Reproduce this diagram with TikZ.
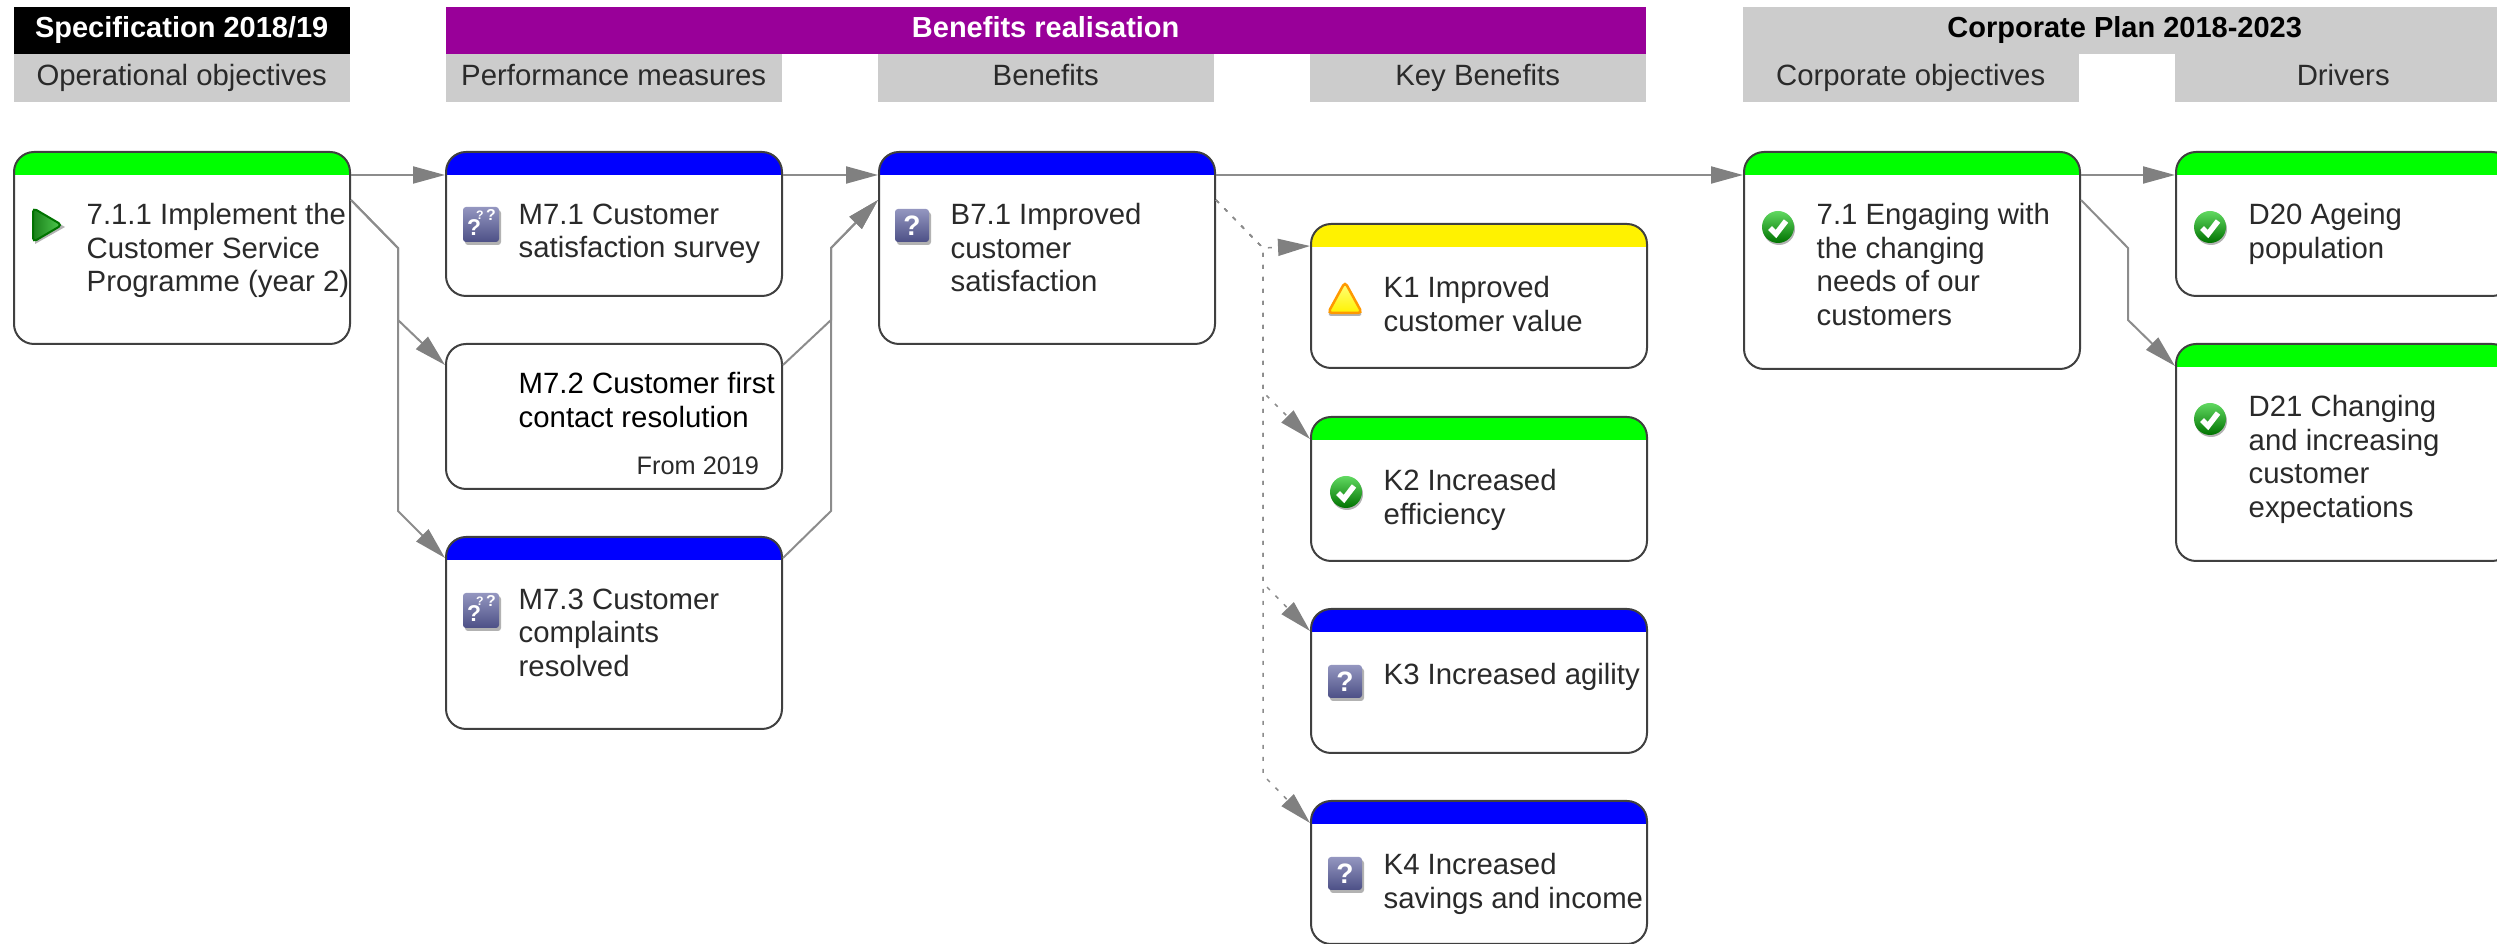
\documentclass[tikz,border=0pt]{standalone}
\usepackage{fontspec}
\setmainfont{Liberation Sans}
\usetikzlibrary{arrows.meta}

\definecolor{barpurple}{HTML}{990099}
\definecolor{bargrey}{HTML}{CCCCCC}
\definecolor{linegrey}{HTML}{8C8C8C}
\definecolor{tipgrey}{HTML}{808080}
\definecolor{textgrey}{HTML}{2A2A2A}
\definecolor{queryblue}{HTML}{5A5E9E}

\tikzset{
    titlebar/.style={anchor=north west, inner sep=0pt, minimum height=4.7mm, text height=2.1mm, text depth=.6mm,
        font=\fontsize{8.25}{9.5}\selectfont\bfseries},
    subbar/.style={anchor=north west, inner sep=0pt, minimum height=4.8mm, text height=2.1mm, text depth=.6mm,
        fill=bargrey, text=textgrey, font=\fontsize{8.35}{9.5}\selectfont},
    plaincard/.style={anchor=north west, inner sep=0pt, minimum width=33.6mm, draw=black!75, line width=.2mm,
        fill=white, rounded corners=2mm},
    card/.style={plaincard, path picture={
        \fill[#1, sharp corners] (path picture bounding box.north west) rectangle ([yshift=-2.3mm]path picture bounding box.north east);}},
    cardtext/.style={anchor=north west, yshift=2mm, inner sep=0pt, align=left, text=textgrey,
        execute at begin node=\rule{0pt}{2.4mm}, font=\fontsize{8.35}{9.53}\selectfont},
    link/.style={draw=linegrey, line width=.2mm, -{Triangle[length=3.2mm,width=1.7mm,color=tipgrey,fill=tipgrey]}},
    dotlink/.style={link, line width=.15mm, dash pattern=on .4mm off .8mm},
    tickicon/.pic={
        \fill[black!30] (1,2) circle (1.6mm);
        \shade[top color=green!55!white!85!black, bottom color=green!45!black] (0,0) circle (1.6mm);
        \draw[white, line width=.55mm] (-8,1) -- (-2,7) -- (8,-6);
    },
    playicon/.pic={
        \fill[black!30] (-12,-15) -- (18,2) -- (-12,19) -- cycle;
        \shade[left color=green!45!black!90, right color=green!60!white!80!black, draw=green!45!black, line width=.2mm,
            rounded corners=.4mm] (-14,-17) -- (15,0) -- (-14,17) -- cycle;
    },
    warnicon/.pic={
        \fill[black!30, rounded corners=.4mm] (0,-13) -- (18,18) -- (-18,18) -- cycle;
        \shade[top color=yellow!50!white, bottom color=yellow!90!orange, draw=orange!80!yellow, line width=.25mm,
            rounded corners=.4mm] (0,-16) -- (17,15) -- (-17,15) -- cycle;
    },
    queryicon/.pic={
        \fill[black!30, rounded corners=.3mm] (-15,-14) rectangle (19,19);
        \shade[top color=queryblue!65!white, bottom color=queryblue!85!black, rounded corners=.3mm] (-17,-17) rectangle (17,16);
        \node[text=white, inner sep=0pt, font=\fontsize{8}{8}\selectfont\bfseries] (mark) at (0,0) {?};
    },
    multiicon/.pic={
        \fill[black!30, rounded corners=.3mm] (-16,-15) rectangle (20,20);
        \shade[top color=queryblue!65!white, bottom color=queryblue!85!black, rounded corners=.3mm] (-18,-18) rectangle (18,17);
        \node[text=white, inner sep=0pt, font=\fontsize{6.5}{6.5}\selectfont\bfseries] (marka) at (-7,3) {?};
        \node[text=white, inner sep=0pt, font=\fontsize{3.5}{3.5}\selectfont\bfseries] (markb) at (-1,-10) {?};
        \node[text=white, inner sep=0pt, font=\fontsize{4.5}{4.5}\selectfont\bfseries] (markc) at (10,-10) {?};
    }
}

\begin{document}
\begin{tikzpicture}[x=.1mm,y=-.1mm]
    \useasboundingbox (0,0) rectangle (2497,944);

    % Column titles
    \node[titlebar, fill=black, text=white, minimum width=33.6mm] (SP) at (13,6) {Specification 2018/19};
    \node[titlebar, fill=barpurple, text=white, minimum width=120mm] (BR) at (445,6) {Benefits realisation};
    \node[titlebar, fill=bargrey, text=black, minimum width=76.4mm] (CP) at (1742,6) {Corporate Plan 2018-2023};

    \node[subbar, minimum width=33.6mm] (SP1) at (13,53) {Operational objectives};
    \node[subbar, minimum width=33.6mm] (BR1) at (445,53) {Performance measures};
    \node[subbar, minimum width=33.6mm] (BR2) at (877,53) {Benefits};
    \node[subbar, minimum width=33.6mm] (BR3) at (1309,53) {Key Benefits};
    \node[subbar, minimum width=33.6mm] (CP1) at (1742,53) {Corporate objectives};
    \node[subbar, minimum width=33.7mm] (CP2) at (2174,53) {Drivers};

    % Cards
    \node[card=green, minimum height=19.2mm] (O1) at (13,151) {};
    \node[card=blue, minimum height=14.4mm] (M1) at (445,151) {};
    \node[plaincard, minimum height=14.5mm] (M2) at (445,343) {};
    \node[card=blue, minimum height=19.2mm] (M3) at (445,536) {};
    \node[card=blue, minimum height=19.2mm] (B1) at (878,151) {};
    \node[card=yellow, minimum height=14.4mm] (K1) at (1310,223) {};
    \node[card=green, minimum height=14.4mm] (K2) at (1310,416) {};
    \node[card=blue, minimum height=14.4mm] (K3) at (1310,608) {};
    \node[card=blue, minimum height=14.3mm] (K4) at (1310,800) {};
    \node[card=green, minimum height=21.7mm] (C1) at (1743,151) {};
    \node[card=green, minimum height=14.4mm] (D1) at (2175,151) {};
    \node[card=green, minimum height=21.7mm] (D2) at (2175,343) {};

    % Card texts
    \node[cardtext] (O1t) at (86,223) {7.1.1 Implement the\\Customer Service\\Programme (year 2)};
    \node[cardtext] (M1t) at (518,223) {M7.1 Customer\\satisfaction survey};
    \node[cardtext, text=black] (M2t) at (518,392) {M7.2 Customer first\\contact resolution};
    \node[cardtext, font=\fontsize{7.2}{8}\selectfont] (M2f) at (636,470) {From 2019};
    \node[cardtext] (M3t) at (518,608) {M7.3 Customer\\complaints\\resolved};
    \node[cardtext] (B1t) at (950,223) {B7.1 Improved\\customer\\satisfaction};
    \node[cardtext] (K1t) at (1383,296) {K1 Improved\\customer value};
    \node[cardtext] (K2t) at (1383,489) {K2 Increased\\efficiency};
    \node[cardtext] (K3t) at (1383,680) {K3 Increased agility};
    \node[cardtext] (K4t) at (1383,873) {K4 Increased\\savings and income};
    \node[cardtext] (C1t) at (1816,223) {7.1 Engaging with\\the changing\\needs of our\\customers};
    \node[cardtext] (D1t) at (2248,223) {D20 Ageing\\population};
    \node[cardtext] (D2t) at (2248,415) {D21 Changing\\and increasing\\customer\\expectations};

    % Status icons
    \pic (O1i) at (47,225) {playicon};
    \pic (M1i) at (481,225) {multiicon};
    \pic (M3i) at (481,611) {multiicon};
    \pic (B1i) at (912,226) {queryicon};
    \pic (K1i) at (1345,298) {warnicon};
    \pic (K2i) at (1346,492) {tickicon};
    \pic (K3i) at (1345,682) {queryicon};
    \pic (K4i) at (1345,874) {queryicon};
    \pic (C1i) at (1778,227) {tickicon};
    \pic (D1i) at (2210,227) {tickicon};
    \pic (D2i) at (2210,419) {tickicon};

    % Draw arrows
    \draw[link] ([yshift=-2.4mm]O1.north east) -- ([yshift=-2.4mm]M1.north west);
    \draw[link] ([yshift=-4.9mm]O1.north east) -- (398,248) -- (398,320) -- ([yshift=-2.2mm]M2.north west);
    \draw[link] ([yshift=-4.9mm]O1.north east) -- (398,248) -- (398,511) -- ([yshift=-2.2mm]M3.north west);

    \draw[link] ([yshift=-2.4mm]M1.north east) -- ([yshift=-2.4mm]B1.north west);
    \draw[link] ([yshift=-2.2mm]M2.north east) -- (831,320) -- (831,248) -- ([yshift=-4.9mm]B1.north west);
    \draw[link] ([yshift=-2.2mm]M3.north east) -- (831,511) -- (831,248) -- ([yshift=-4.9mm]B1.north west);

    \draw[link] ([yshift=-2.4mm]B1.north east) -- ([yshift=-2.4mm]C1.north west);

    \draw[dotlink] ([yshift=-4.9mm]B1.north east) -- (1263,248) -- ([yshift=-2.3mm]K1.north west);
    \draw[dotlink] ([yshift=-4.9mm]B1.north east) -- (1263,248) -- (1263,392) -- ([yshift=-2.3mm]K2.north west);
    \draw[dotlink] ([yshift=-4.9mm]B1.north east) -- (1263,248) -- (1263,583) -- ([yshift=-2.3mm]K3.north west);
    \draw[dotlink] ([yshift=-4.9mm]B1.north east) -- (1263,248) -- (1263,775) -- ([yshift=-2.3mm]K4.north west);

    \draw[link] ([yshift=-2.4mm]C1.north east) -- ([yshift=-2.4mm]D1.north west);
    \draw[link] ([yshift=-4.9mm]C1.north east) -- (2128,248) -- (2128,320) -- ([yshift=-2.3mm]D2.north west);
\end{tikzpicture}
\end{document}
